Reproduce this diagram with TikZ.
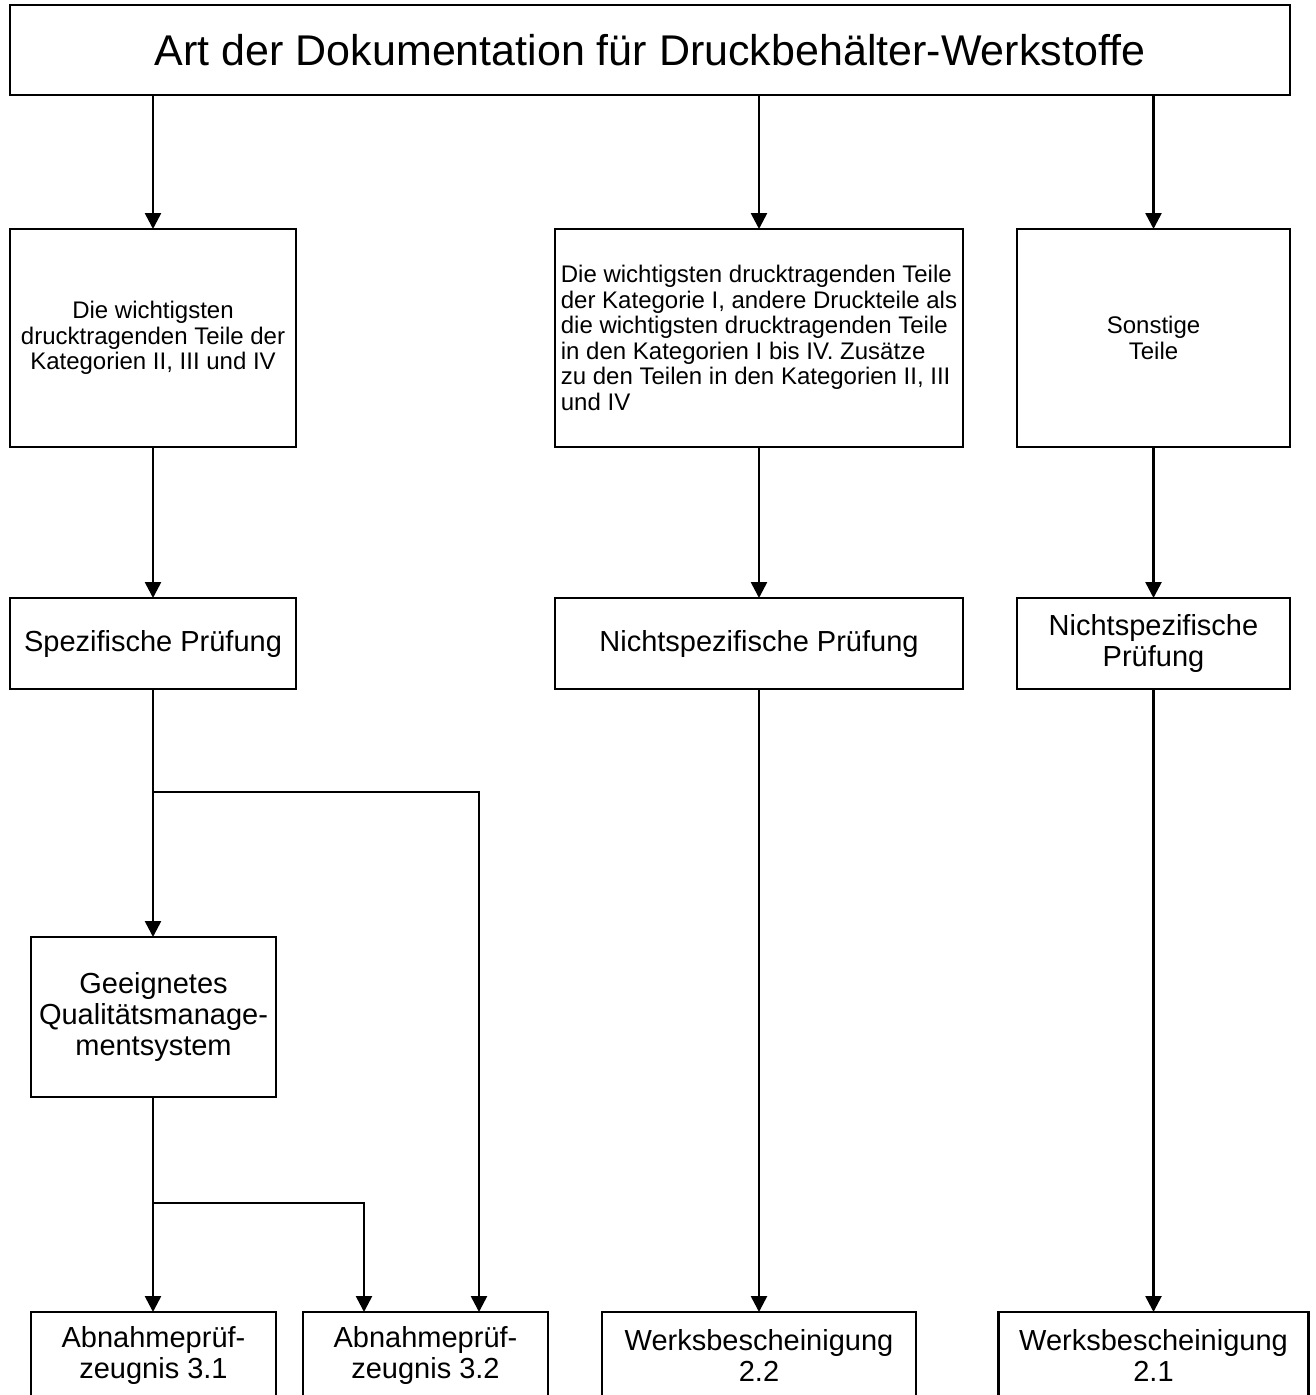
\documentclass[tikz,border=0pt]{standalone}
\usepackage{fontspec}
\setmainfont{Liberation Sans}
\usetikzlibrary{arrows.meta}
\begin{document}
\begin{tikzpicture}[x=1pt,y=-1pt,
  box/.style={draw, line width=2.6pt, inner sep=0pt, outer sep=0pt, align=center,
    font=\fontsize{29}{31}\selectfont},
  small/.style={font=\fontsize{24}{25.5}\selectfont},
  conn/.style={line width=2.6pt},
  arr/.style={line width=2.6pt, -{Triangle[length=16pt,width=16pt]}}]
\useasboundingbox (0,0) rectangle (1316,1395);
\clip (0,0) rectangle (1316,1395);
% boxes
\node[box, minimum width=1280, minimum height=90, font=\fontsize{43}{46}\selectfont] (title) at (650,50)
  {Art der Dokumentation für Druckbehälter-Werkstoffe};
\node[box, small, minimum width=286, minimum height=218] (r1a) at (153,338)
  {Die wichtigsten\\drucktragenden Teile der\\Kategorien II, III und IV};
\node[box, small, minimum width=408, minimum height=218, align=left] (r1b) at (759,338)
  {Die wichtigsten drucktragenden Teile\\der Kategorie I, andere Druckteile als\\die wichtigsten drucktragenden Teile\\in den Kategorien I bis IV. Zusätze\\zu den Teilen in den Kategorien II, III\\und IV};
\node[box, small, minimum width=273, minimum height=218] (r1c) at (1153.5,338)
  {Sonstige\\Teile};
\node[box, minimum width=286, minimum height=91] (r2a) at (153,643.5) {Spezifische Prüfung};
\node[box, minimum width=408, minimum height=91] (r2b) at (759,643.5) {Nichtspezifische Prüfung};
\node[box, minimum width=273, minimum height=91] (r2c) at (1153.5,643.5) {Nichtspezifische\\Prüfung};
\node[box, minimum width=245, minimum height=160] (g) at (153.5,1017)
  {Geeignetes\\Qualitätsmanage-\\mentsystem};
\node[box, minimum width=245, minimum height=86] (a31) at (153.5,1355) {Abnahmeprüf-\\zeugnis 3.1};
\node[box, minimum width=245, minimum height=86] (a32) at (425.5,1355) {Abnahmeprüf-\\zeugnis 3.2};
\node[box, minimum width=314, minimum height=86] (w22) at (759,1355) {Werksbescheinigung\\2.2};
\node[box, minimum width=310, minimum height=86] (w21) at (1153.5,1355) {Werksbescheinigung\\2.1};
% connectors
\draw[arr] (r1a.north |- title.south) -- (r1a.north);
\draw[arr] (r1b.north |- title.south) -- (r1b.north);
\draw[arr] (r1c.north |- title.south) -- (r1c.north);
\draw[arr] (r1a) -- (r2a);
\draw[arr] (r1b) -- (r2b);
\draw[arr] (r1c) -- (r2c);
\coordinate (j1) at (153,792);
\coordinate (j2) at (153,1203);
\draw[conn] (r2a.south) -- (j1);
\draw[arr] (j1) -- (j1 |- g.north);
\draw[arr] (j1) -| ([xshift=53.5]a32.north);
\draw[conn] (j2 |- g.south) -- (j2);
\draw[arr] (j2) -- (j2 |- a31.north);
\draw[arr] (j2) -| ([xshift=-61.5]a32.north);
\draw[arr] (r2b) -- (w22);
\draw[arr] (r2c) -- (w21);
\end{tikzpicture}
\end{document}
